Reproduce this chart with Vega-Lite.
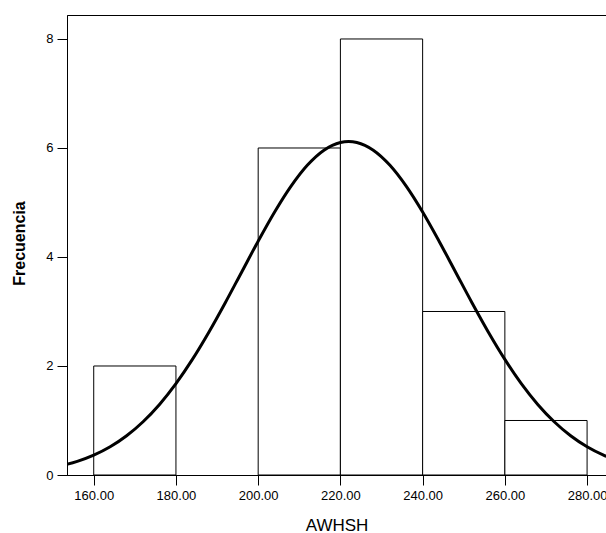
{
  "$schema": "https://vega.github.io/schema/vega-lite/v6.json",
  "width": 539,
  "height": 460,
  "autosize": {"type": "none"},
  "padding": {"left": 67, "top": 15, "right": 0, "bottom": 58},
  "background": "white",
  "config": {
    "view": {"stroke": "black", "strokeWidth": 1},
    "axis": {
      "domainColor": "black",
      "tickColor": "black",
      "tickSize": 10,
      "grid": false,
      "labelFont": "Liberation Sans",
      "labelFontSize": 13,
      "labelColor": "black",
      "titleFont": "Liberation Sans",
      "titleColor": "black"
    }
  },
  "datasets": {
    "bins": [
      {"lo": 160, "hi": 180, "count": 2},
      {"lo": 180, "hi": 200, "count": 0},
      {"lo": 200, "hi": 220, "count": 6},
      {"lo": 220, "hi": 240, "count": 8},
      {"lo": 240, "hi": 260, "count": 3},
      {"lo": 260, "hi": 280, "count": 1}
    ],
    "curve": [
      {"x": 152, "y": 0.168}, {"x": 156, "y": 0.25}, {"x": 160, "y": 0.364},
      {"x": 164, "y": 0.518}, {"x": 168, "y": 0.72}, {"x": 172, "y": 0.977},
      {"x": 176, "y": 1.295}, {"x": 180, "y": 1.677}, {"x": 184, "y": 2.121},
      {"x": 188, "y": 2.62}, {"x": 192, "y": 3.161}, {"x": 196, "y": 3.726},
      {"x": 200, "y": 4.29}, {"x": 204, "y": 4.825}, {"x": 208, "y": 5.3},
      {"x": 212, "y": 5.687}, {"x": 216, "y": 5.96}, {"x": 220, "y": 6.102},
      {"x": 222, "y": 6.12}, {"x": 224, "y": 6.102}, {"x": 228, "y": 5.96},
      {"x": 232, "y": 5.687}, {"x": 236, "y": 5.3}, {"x": 240, "y": 4.825},
      {"x": 244, "y": 4.29}, {"x": 248, "y": 3.726}, {"x": 252, "y": 3.161},
      {"x": 256, "y": 2.62}, {"x": 260, "y": 2.121}, {"x": 264, "y": 1.677},
      {"x": 268, "y": 1.295}, {"x": 272, "y": 0.977}, {"x": 276, "y": 0.72},
      {"x": 280, "y": 0.518}, {"x": 284, "y": 0.364}, {"x": 288, "y": 0.25}
    ]
  },
  "layer": [
    {
      "data": {"name": "bins"},
      "transform": [{"filter": "datum.count > 0"}],
      "mark": {"type": "rect", "fill": "white", "stroke": "black", "strokeWidth": 1, "clip": true},
      "encoding": {
        "x": {
          "field": "lo", "type": "quantitative",
          "scale": {"domain": [153.5, 284.6], "nice": false, "zero": false},
          "axis": {
            "title": "AWHSH",
            "values": [160, 180, 200, 220, 240, 260, 280],
            "format": ".2f",
            "labelPadding": 4,
            "titleFontSize": 17,
            "titleFontWeight": "normal",
            "titleY": 50,
            "titleBaseline": "middle"
          }
        },
        "x2": {"field": "hi"},
        "y": {
          "field": "count", "type": "quantitative",
          "scale": {"domain": [0, 8.44], "nice": false},
          "axis": {
            "title": "Frecuencia",
            "values": [0, 2, 4, 6, 8],
            "format": "d",
            "labelPadding": 4,
            "titleFontSize": 16,
            "titleFontWeight": "bold",
            "titleX": -48,
            "titleY": 228,
            "titleBaseline": "middle"
          }
        },
        "y2": {"datum": 0}
      }
    },
    {
      "data": {"name": "curve"},
      "mark": {"type": "line", "color": "black", "strokeWidth": 3, "clip": true, "interpolate": "monotone"},
      "encoding": {
        "x": {"field": "x", "type": "quantitative"},
        "y": {"field": "y", "type": "quantitative"}
      }
    }
  ]
}
